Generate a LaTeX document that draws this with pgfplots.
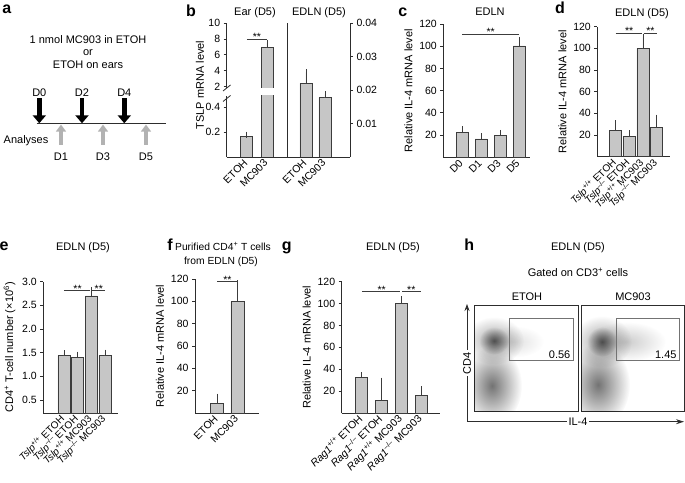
\documentclass[border=0pt]{standalone}
\usepackage{fontspec}
\setmainfont{Liberation Sans}
\usepackage{pgfplots}
\pgfplotsset{compat=1.18}
\usetikzlibrary{arrows.meta,fadings}
\definecolor{barc}{RGB}{198,198,198}
\definecolor{edgec}{RGB}{60,60,60}
\definecolor{axc}{RGB}{45,45,45}
\tikzfading[name=softfade, inner color=transparent!0, outer color=transparent!100]
\newcommand{\fs}{\fontsize{11}{13}\selectfont}
\newcommand{\ts}{\fontsize{10.5}{12.5}\selectfont}
\pgfplotsset{
  base/.style={
    scale only axis, anchor=south west, clip mode=individual,
    axis x line*=bottom, axis y line*=left,
    axis line style={-, line width=0.8pt, draw=axc},
    tick align=outside, major tick length=3pt,
    ytick style={line width=0.8pt, draw=axc},
    xtick style={draw=none},
    tick label style={font=\ts, text=black},
    label style={font=\fs},
    /pgf/number format/assume math mode=true,
    xticklabel style={rotate=45, anchor=east, inner sep=1.5pt},
    ybar, bar width=12pt,
    enlarge x limits=false, scaled y ticks=false,
  },
  bars/.style={fill=barc, draw=edgec, line width=0.7pt, bar shift=0pt,
    error bars/y dir=plus, error bars/y explicit,
    error bars/error bar style={line width=0.7pt, draw=edgec},
    error bars/error mark options={draw=edgec, line width=0.7pt, mark size=3pt}},
  flow/.style={scale only axis, anchor=south west, xtick=\empty, ytick=\empty,
    axis line style={draw=axc, line width=0.8pt}},
}
\newcommand{\stars}[2]{\node[anchor=base, inner sep=0, yshift=-1.5pt, font=\fontsize{10.5}{11}\selectfont] at (axis cs:#1,#2) {**};}
\newcommand{\brk}[3]{\draw[edgec, line width=0.7pt] (axis cs:#1,#3) -- (axis cs:#2,#3);}
\begin{document}
\begin{tikzpicture}[x=1pt,y=1pt, font=\fs]
\path[use as bounding box] (0,0) rectangle (685,482);

% panel letters
\foreach \l/\x/\y in {a/6.7/14, b/191/16.5, c/402.7/16.5, d/560/14, e/4/250.5, f/170/250.5, g/286.7/250.5, h/469.3/250.5}
  \node[anchor=base, font=\fontsize{16}{16}\selectfont\bfseries, inner sep=0] at (\x,482-\y) {\l};

% ---------- panel a ----------
\node[anchor=base, inner sep=0] at (88,482-43.5) {1 nmol MC903 in ETOH};
\node[anchor=base, inner sep=0] at (88,482-56) {or};
\node[anchor=base, inner sep=0] at (88,482-69) {ETOH on ears};
\foreach \x/\lab in {39.3/D0, 82/D2, 124.3/D4} {
  \node[anchor=base, inner sep=0] at (\x,482-96.5) {\lab};
  \draw[black, line width=4.5pt, -{Triangle[width=13pt,length=8pt]}] (\x,482-98.5) -- (\x,482-123.3);
}
\draw[axc, line width=1pt] (36.7,482-123.3) -- (166,482-123.3);
\foreach \x/\lab in {61/D1, 103/D3, 146/D5} {
  \draw[black!30, line width=4.5pt, -{Triangle[width=10pt,length=7pt]}] (\x,482-145) -- (\x,482-124.6);
  \node[anchor=base, inner sep=0] at (\x,482-161) {\lab};
}
\node[anchor=base, inner sep=0] at (26,482-143.3) {Analyses};

% ---------- panel b ----------
\node[anchor=base, inner sep=0] at (255,482-15.6) {Ear (D5)};
\node[anchor=base, inner sep=0] at (319,482-15.6) {EDLN (D5)};
\node[rotate=90] at (200,482-85) {TSLP mRNA level};
\begin{axis}[base, at={(226.7pt,325pt)}, width=60.3pt, height=61pt,
  xmin=0, xmax=3, ymin=0, ymax=0.49, ytick={0.2,0.4}, clip mode=global,
  xtick={1,2}, xticklabels={ETOH,MC903},
  yticklabel style={/pgf/number format/.cd, fixed, precision=1, zerofill}]
\addplot[bars] coordinates {(1,0.163) +- (0,0.017)};
\addplot[bars] coordinates {(2,6.9) +- (0,0)};
\end{axis}
\begin{axis}[base, at={(226.7pt,394pt)}, width=60.3pt, height=65pt,
  xmin=0, xmax=3, ymin=1.83, ymax=10, ytick={2,4,6,8,10},
  axis x line=none, xtick=\empty]
\addplot[bars] coordinates {(2,6.9) +- (0,0.6)};
\brk{1}{2}{7.95}
\stars{1.5}{7.95}
\end{axis}
% axis break marks
\draw[axc, line width=0.8pt] (223,482-91) -- (230.5,482-85);
\draw[axc, line width=0.8pt] (223,482-101.5) -- (230.5,482-95.5);
\begin{axis}[base, at={(287pt,325pt)}, width=63pt, height=133.7pt,
  xmin=0, xmax=3.32, ymin=0, ymax=0.04, axis y line*=right,
  ytick={0.01,0.02,0.03,0.04},
  yticklabel style={/pgf/number format/.cd, fixed, precision=2, zerofill},
  xtick={1,2}, xticklabels={ETOH,MC903}]
\addplot[bars] coordinates {(1,0.022) +- (0,0.0033) (2,0.0177) +- (0,0.0010)};
\draw[axc, line width=0.8pt] (rel axis cs:0,0) -- (rel axis cs:0,1);
\end{axis}

% ---------- panel c ----------
\node[anchor=base, inner sep=0] at (490,482-15.6) {EDLN};
\begin{axis}[base, at={(443.3pt,324.7pt)}, width=86.7pt, height=133.3pt,
  xmin=0, xmax=4.58, ymin=0, ymax=120, ytick={20,40,...,120},
  xtick={1,2,3,4}, xticklabels={D0,D1,D3,D5},
  ylabel={Relative IL-4 mRNA level}]
\addplot[bars] coordinates {(1,22.2) +- (0,3.2) (2,16.5) +- (0,2.4) (3,20) +- (0,1.9) (4,100.3) +- (0,5.4)};
\brk{1}{4}{111}
\stars{2.5}{111}
\end{axis}

% ---------- panel d ----------
\node[anchor=base, inner sep=0] at (642,482-16.6) {EDLN (D5)};
\begin{axis}[base, at={(597.3pt,325.3pt)}, width=72.7pt, height=130pt,
  xmin=-0.33, xmax=4.98, ymin=0, ymax=120, ytick={20,40,...,120},
  xtick={1,2,3,4}, xticklabel style={font=\fontsize{10}{12}\selectfont},
  xticklabels={\textit{Tslp}\textsuperscript{+/+} ETOH, \textit{Tslp}\textsuperscript{–/–} ETOH, \textit{Tslp}\textsuperscript{+/+} MC903, \textit{Tslp}\textsuperscript{–/–} MC903},
  ylabel={Relative IL-4 mRNA level}]
\addplot[bars] coordinates {(1,24.6) +- (0,6.2) (2,19) +- (0,2.5) (3,100) +- (0,10.8) (4,27) +- (0,9)};
\brk{1}{2.93}{114}
\brk{3.07}{4}{114}
\stars{2}{114}
\stars{3.55}{114}
\end{axis}

% ---------- panel e ----------
\node[anchor=base, inner sep=0] at (83,482-250.6) {EDLN (D5)};
\begin{axis}[base, at={(43.3pt,68.7pt)}, width=74.7pt, height=131.6pt,
  xmin=-0.5, xmax=4.95, ymin=0.22, ymax=3.0, ytick={0.5,1,1.5,2,2.5,3},
  yticklabel style={/pgf/number format/.cd, fixed, precision=1, zerofill},
  xtick={1,2,3,4}, xticklabel style={font=\fontsize{10}{12}\selectfont},
  xticklabels={\textit{Tslp}\textsuperscript{+/+} ETOH, \textit{Tslp}\textsuperscript{–/–} ETOH, \textit{Tslp}\textsuperscript{+/+} MC903, \textit{Tslp}\textsuperscript{–/–} MC903},
  ylabel={CD4\textsuperscript{+} T-cell number (×10\textsuperscript{6})}]
\addplot[bars] coordinates {(1,1.44) +- (0,0.05) (2,1.40) +- (0,0.06) (3,2.7) +- (0,0.12) (4,1.44) +- (0,0.06)};
\brk{1}{2.93}{2.81}
\brk{3.07}{4}{2.81}
\stars{2}{2.81}
\stars{3.55}{2.81}
\end{axis}

% ---------- panel f ----------
\node[anchor=base, inner sep=0, font=\fontsize{10.3}{12}\selectfont] at (223,482-250.3) {Purified CD4\textsuperscript{+} T cells};
\node[anchor=base, inner sep=0, font=\fontsize{10.3}{12}\selectfont] at (221,482-264.3) {from EDLN (D5)};
\begin{axis}[base, at={(195pt,69pt)}, width=64.3pt, height=134pt,
  xmin=-0.1, xmax=3.08, ymin=0, ymax=120, ytick={20,40,...,120},
  xtick={1,2}, xticklabels={ETOH,MC903},
  ylabel={Relative IL-4 mRNA level}]
\addplot[bars, bar width=13pt] coordinates {(1,8.7) +- (0,5.9) (2,99.6) +- (0,16.4)};
\brk{1}{2}{117.5}
\stars{1.5}{117.5}
\end{axis}

% ---------- panel g ----------
\node[anchor=base, inner sep=0] at (393,482-250.6) {EDLN (D5)};
\begin{axis}[base, at={(341.7pt,69pt)}, width=98.3pt, height=131.3pt,
  xmin=-0.015, xmax=4.95, ymin=0, ymax=120, ytick={20,40,...,120},
  xtick={1,2,3,4},
  xticklabels={\textit{Rag1}\textsuperscript{+/+} ETOH, \textit{Rag1}\textsuperscript{–/–} ETOH, \textit{Rag1}\textsuperscript{+/+} MC903, \textit{Rag1}\textsuperscript{–/–} MC903},
  ylabel={Relative IL-4 mRNA level}]
\addplot[bars] coordinates {(1,32.2) +- (0,2.5) (2,11.5) +- (0,18) (3,100.3) +- (0,3.7) (4,16.4) +- (0,5.4)};
\brk{1}{2.95}{111}
\brk{3.05}{4}{111}
\stars{2}{111}
\stars{3.5}{111}
\end{axis}

% ---------- panel h ----------
\node[anchor=base, inner sep=0] at (578,482-250.6) {EDLN (D5)};
\node[anchor=base, inner sep=0] at (578,482-276.6) {Gated on CD3\textsuperscript{+} cells};
\node[anchor=base, inner sep=0] at (527,482-300.3) {ETOH};
\node[anchor=base, inner sep=0] at (633,482-300.3) {MC903};
\begin{axis}[flow, at={(474pt,70.3pt)}, width=104pt, height=106.7pt,
  xmin=0, xmax=104, ymin=0, ymax=106.7]
\fill[black, fill opacity=0.55, path fading=softfade] (axis cs:18,26) ellipse [x radius=30, y radius=40];
\fill[black, fill opacity=0.35, path fading=softfade] (axis cs:20,71) ellipse [x radius=30, y radius=24];
\fill[black, fill opacity=0.5, path fading=softfade] (axis cs:20,71) ellipse [x radius=15, y radius=14];
\fill[black, fill opacity=0.12, path fading=softfade] (axis cs:40,70) ellipse [x radius=30, y radius=16];
\draw[black!55, line width=0.7pt] (axis cs:35,51.7) rectangle (axis cs:99,93.4);
\node[anchor=base east, inner sep=0] at (axis cs:96.5,53) {0.56};
\end{axis}
\begin{axis}[flow, at={(581pt,70.3pt)}, width=103pt, height=106.7pt,
  xmin=0, xmax=103, ymin=0, ymax=106.7]
\fill[black, fill opacity=0.55, path fading=softfade] (axis cs:17,27) ellipse [x radius=32, y radius=42];
\fill[black, fill opacity=0.35, path fading=softfade] (axis cs:21,70) ellipse [x radius=30, y radius=26];
\fill[black, fill opacity=0.5, path fading=softfade] (axis cs:21,70) ellipse [x radius=15, y radius=15];
\fill[black, fill opacity=0.2, path fading=softfade] (axis cs:45,70) ellipse [x radius=40, y radius=20];
\draw[black!55, line width=0.7pt] (axis cs:35,51.7) rectangle (axis cs:98.3,93.4);
\node[anchor=base east, inner sep=0] at (axis cs:95.7,53.4) {1.45};
\end{axis}
\draw[axc, line width=0.8pt, -{Stealth[length=7pt,width=5pt]}] (467,482-421.7) -- (467,482-304);
\draw[axc, line width=0.8pt, -{Stealth[length=8pt,width=5pt]}] (467,482-421.7) -- (684,482-421.7);
\node[fill=white, rotate=90, inner sep=1.5pt] at (467,482-363) {CD4};
\node[fill=white, inner sep=1.5pt] at (578,482-421.7) {IL-4};
\end{tikzpicture}
\end{document}
